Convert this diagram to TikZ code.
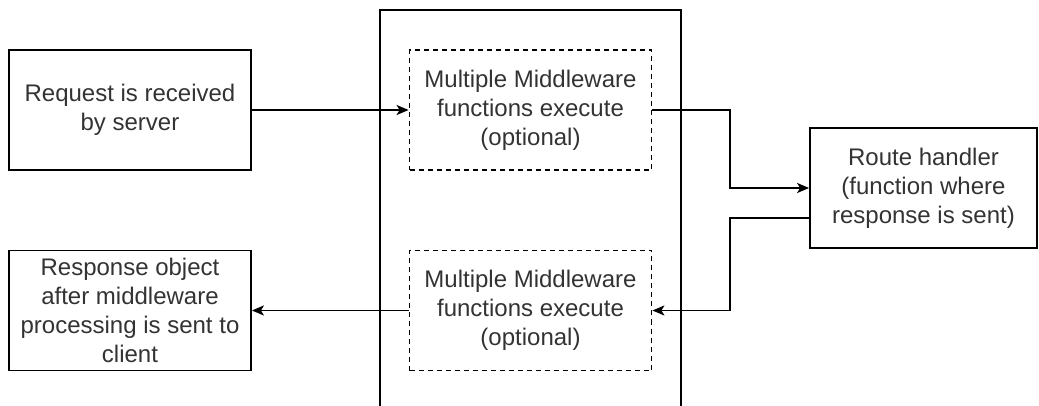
\documentclass[tikz,border=0pt]{standalone}
\usepackage{fontspec}
\setmainfont{Liberation Sans}
\usetikzlibrary{arrows.meta}

\tikzset{
	block/.style={draw, line width=0.9pt, minimum width=121pt, minimum height=60pt,
		inner sep=0pt, align=center, text=black!80, font=\fontsize{12}{14.5}\selectfont},
	mware/.style={block, dash pattern=on 2.5pt off 2pt},
}

\begin{document}
\begin{tikzpicture}[x=0.5pt, y=-0.5pt, line width=0.9pt,
	>={Stealth[length=6pt, width=5pt, inset=1.5pt]}]
	\useasboundingbox (0,0) rectangle (1039,406);

	% server box, open at the bottom
	\draw (380,406) -- (380,10) -- (681,10) -- (681,406);

	\node[block] (req) at (130,110) {Request is received\\by server};
	\node[mware] (mw1) at (530.5,110) {Multiple Middleware\\functions execute\\(optional)};
	\node[block, minimum width=113.5pt] (route) at (923.5,188) {Route handler\\(function where\\response is sent)};
	\node[block] (resp) at (130,310.5) {Response object\\after middleware\\processing is sent to\\client};
	\node[mware] (mw2) at (530.5,310.5) {Multiple Middleware\\functions execute\\(optional)};

	\coordinate (bus) at (730,0);
	\coordinate (back) at (810,218);

	\path[->] (req) edge (mw1);
	\draw[->] (mw1.east) -- (mw1.east -| bus) |- (route.west);
	\draw[->] (back) -- (back -| bus) |- (mw2.east);
	\path[->] (mw2) edge (resp);
\end{tikzpicture}
\end{document}
